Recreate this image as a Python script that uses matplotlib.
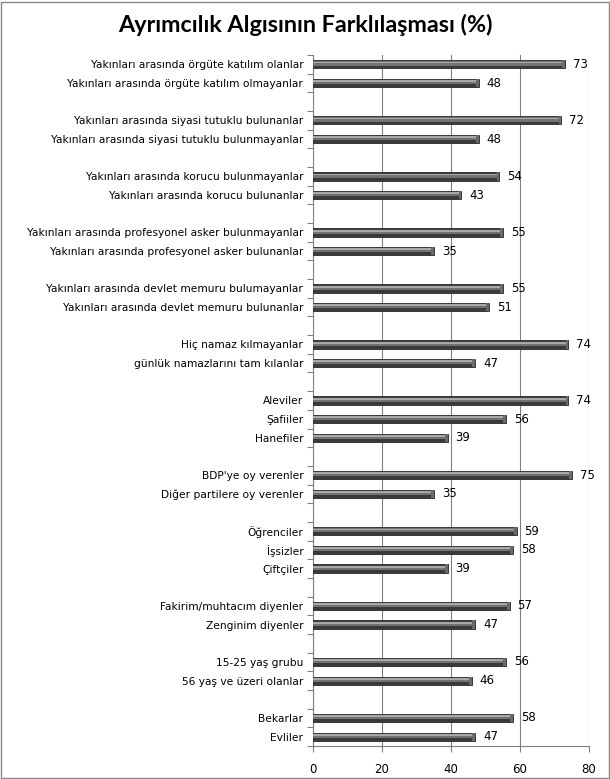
import matplotlib
matplotlib.use("Agg")
import matplotlib.pyplot as plt
from matplotlib.patches import Rectangle

# groups of categories, top to bottom
groups = [
    ["Yakınları arasında örgüte katılım olanlar", "Yakınları arasında örgüte katılım olmayanlar"],
    ["Yakınları arasında siyasi tutuklu bulunanlar", "Yakınları arasında siyasi tutuklu bulunmayanlar"],
    ["Yakınları arasında korucu bulunmayanlar", "Yakınları arasında korucu bulunanlar"],
    ["Yakınları arasında profesyonel asker bulunmayanlar", "Yakınları arasında profesyonel asker bulunanlar"],
    ["Yakınları arasında devlet memuru bulumayanlar", "Yakınları arasında devlet memuru bulunanlar"],
    ["Hiç namaz kılmayanlar", "günlük namazlarını tam kılanlar"],
    ["Aleviler", "Şafiiler", "Hanefiler"],
    ["BDP'ye oy verenler", "Diğer partilere oy verenler"],
    ["Öğrenciler", "İşsizler", "Çiftçiler"],
    ["Fakirim/muhtacım diyenler", "Zenginim diyenler"],
    ["15-25 yaş grubu", "56 yaş ve üzeri olanlar"],
    ["Bekarlar", "Evliler"],
]
values = [
    [73, 48],
    [72, 48],
    [54, 43],
    [55, 35],
    [55, 51],
    [74, 47],
    [74, 56, 39],
    [75, 35],
    [59, 58, 39],
    [57, 47],
    [56, 46],
    [58, 47],
]

labels = []
vals = []
for gi, (g, v) in enumerate(zip(groups, values)):
    labels += g
    vals += v
    if gi < len(groups) - 1:
        labels.append("")
        vals.append(None)

n = len(labels)
pos = list(range(n))

fig = plt.figure(figsize=(6.10, 7.79), dpi=100)
ax = fig.add_axes([313 / 610, 1 - 746 / 779, 276 / 610, 691 / 779])

h = 0.44
for y, v in zip(pos, vals):
    if v is None:
        continue
    # cylinder-like bar: dark body with lighter stripes
    ax.barh(y, v, height=h, color="#3a3a3a", edgecolor="#2a2a2a", linewidth=0.6, zorder=3)
    ax.barh(y - h * 0.1, v - 0.4, height=h * 0.5, color="#727272", linewidth=0, zorder=4)
    ax.barh(y - h * 0.22, v - 0.4, height=h * 0.22, color="#a8a8a8", linewidth=0, zorder=5)
    ax.barh(y, 0.8, left=v - 0.8, height=h, color="#6a6a6a", linewidth=0, zorder=6)
    ax.text(v + 2.3, y, str(v), va="center", ha="left", fontsize=8.5,
            family="DejaVu Sans", color="#000000", zorder=7)

ax.set_ylim(n - 0.5, -0.5)
ax.set_xlim(0, 80)
ax.set_xticks([0, 20, 40, 60, 80])
ax.tick_params(axis="x", labelsize=8.5, length=4, color="#808080", pad=8)
ax.set_yticks([p + 0.5 for p in pos[:-1]] + [-0.5, n - 0.5], minor=False)
ax.set_yticklabels([""] * (n + 1))
ax.tick_params(axis="y", length=4, color="#808080")
ax.set_yticks(pos, minor=True)
ax.set_yticklabels(labels, minor=True, fontsize=7.7)
ax.tick_params(axis="y", which="minor", length=0, pad=7)
ax.grid(axis="x", color="#808080", linewidth=0.8, zorder=0)
for s in ["top", "right"]:
    ax.spines[s].set_visible(False)
for s in ["left", "bottom"]:
    ax.spines[s].set_color("#808080")

fig.text(0.5, 1 - 25 / 779, "Ayrımcılık Algısının Farklılaşması (%)", ha="center", va="center",
         fontsize=16.8, fontweight="bold", family="Lato")

fig.patches.append(Rectangle((0.001, 0.001), 0.997, 0.997, transform=fig.transFigure,
                             fill=False, edgecolor="#888888", linewidth=1))

fig.savefig("out.png", dpi=100)
